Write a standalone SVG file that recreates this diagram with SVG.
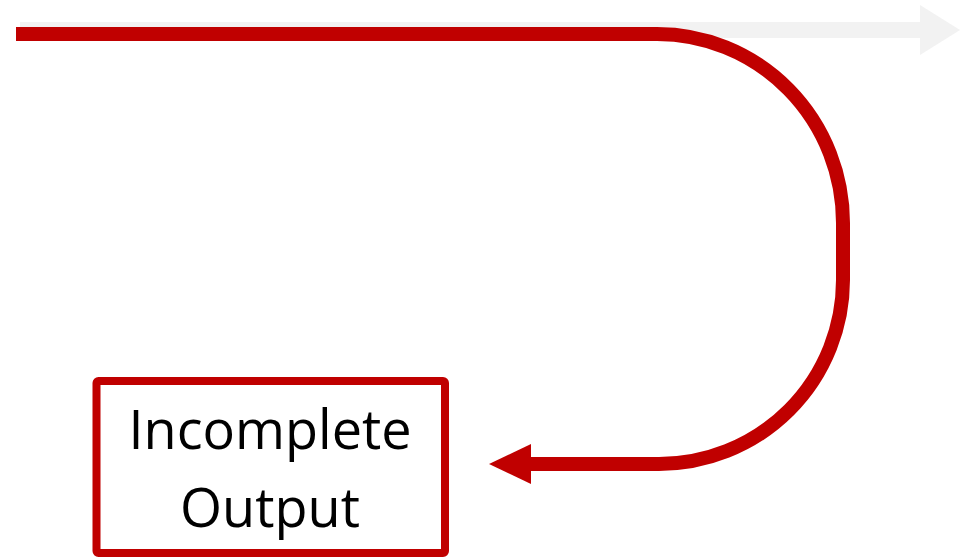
<svg xmlns="http://www.w3.org/2000/svg" width="960" height="557" viewBox="0 0 960 557">
  <style>
    .flow { fill: none; stroke: #C00000; stroke-width: 14; }
    .head { fill: #C00000; }
    .ghost { fill: #F2F2F2; }
    .box { fill: #FFFFFF; stroke: #C00000; stroke-width: 8; }
    .label { font-family: "Open Sans", "Liberation Sans", sans-serif; font-size: 54px; fill: #000000; text-anchor: middle; }
  </style>
  <g id="connectors">
    <!-- faint straight-through arrow -->
    <g id="ghost-arrow">
      <rect class="ghost" x="20" y="22" width="901" height="16"/>
      <polygon class="ghost" points="920,5 960,30 920,55"/>
    </g>
    <!-- looping red arrow -->
    <g id="loop-arrow">
      <path class="flow" d="M16,34 H657 A186,189 0 0 1 843,223 V280 A184,184 0 0 1 659,464 H526"/>
      <polygon class="head" points="489,464 531,444 531,484"/>
    </g>
  </g>
  <g id="incomplete-output">
    <rect class="box" x="96.5" y="381" width="348.5" height="172" rx="2"/>
    <text class="label" x="270" y="449">Incomplete</text>
    <text class="label" x="270" y="527">Output</text>
  </g>
</svg>
